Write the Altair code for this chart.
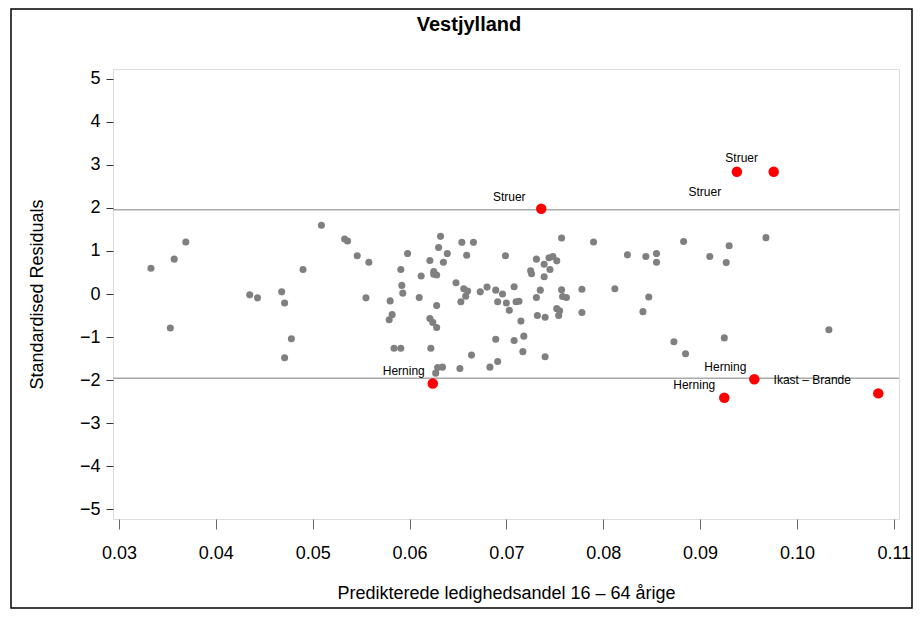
import altair as alt
import pandas as pd

# ---- data ----
gray_x = [0.0333, 0.0357, 0.0369, 0.0353, 0.0435, 0.0443, 0.0468, 0.0471, 0.0478, 0.0471,
          0.0490, 0.0509, 0.0533, 0.0536, 0.0546, 0.0558, 0.0555, 0.0598, 0.0591, 0.0592,
          0.0593, 0.0580, 0.0582, 0.0579, 0.0584, 0.0591, 0.0610, 0.0612, 0.0621, 0.0625,
          0.0625, 0.0628, 0.0632, 0.0630, 0.0635, 0.0639, 0.0628, 0.0621, 0.0624, 0.0628,
          0.0622, 0.0648, 0.0654, 0.0666, 0.0659, 0.0656, 0.0660, 0.0658, 0.0653, 0.0673,
          0.0680, 0.0689, 0.0696, 0.0691, 0.0700, 0.0703, 0.0708, 0.0710, 0.0699, 0.0689,
          0.0708, 0.0664, 0.0691, 0.0683, 0.0652, 0.0634, 0.0629, 0.0627, 0.0713, 0.0715,
          0.0718, 0.0717, 0.0757, 0.0790, 0.0731, 0.0744, 0.0748, 0.0752, 0.0739, 0.0745,
          0.0725, 0.0726, 0.0739, 0.0735, 0.0731, 0.0757, 0.0758, 0.0762, 0.0778, 0.0752,
          0.0755, 0.0754, 0.0732, 0.0740, 0.0778, 0.0740, 0.0812, 0.0825, 0.0844, 0.0855,
          0.0855, 0.0847, 0.0841, 0.0873, 0.0885, 0.0883, 0.0968, 0.0930, 0.0910, 0.0927,
          0.1033, 0.0925]
gray_y = [0.60, 0.81, 1.21, -0.79, -0.02, -0.09, 0.05, -0.21, -1.04, -1.48,
          0.57, 1.60, 1.28, 1.23, 0.89, 0.74, -0.09, 0.94, 0.57, 0.20,
          0.02, -0.16, -0.48, -0.60, -1.26, -1.26, -0.08, 0.42, 0.78, 0.52,
          0.46, 0.44, 1.34, 1.08, 0.74, 0.94, -0.27, -0.57, -0.66, -0.78,
          -1.26, 0.26, 1.20, 1.20, 0.90, 0.12, 0.07, -0.05, -0.18, 0.05,
          0.16, 0.09, 0.00, -0.18, -0.21, -0.38, 0.17, -0.18, 0.89, -1.05,
          -1.08, -1.42, -1.57, -1.70, -1.73, -1.70, -1.71, -1.84, -0.17, -0.63,
          -0.98, -1.34, 1.30, 1.21, 0.81, 0.84, 0.87, 0.77, 0.69, 0.57,
          0.54, 0.47, 0.40, 0.09, -0.08, 0.10, -0.06, -0.08, 0.11, -0.34,
          -0.39, -0.50, -0.50, -0.54, -0.43, -1.46, 0.12, 0.91, 0.87, 0.94,
          0.74, -0.07, -0.41, -1.11, -1.39, 1.22, 1.31, 1.12, 0.87, 0.73,
          -0.83, -1.02]

red_x = [0.0736, 0.0938, 0.0976, 0.0624, 0.0956, 0.0925, 0.1084]
red_y = [1.98, 2.84, 2.84, -2.08, -1.98, -2.41, -2.31]
red_names = ["Struer", "Struer", "Struer", "Herning", "Herning", "Herning", "Ikast – Brande"]

ref_levels = [-1.96, 1.96]
x_ticks = [0.03, 0.04, 0.05, 0.06, 0.07, 0.08, 0.09, 0.10, 0.11]
y_ticks = [-5, -4, -3, -2, -1, 0, 1, 2, 3, 4, 5]
chart_title = "Vestjylland"

# ---- tables ----
gray_df = pd.DataFrame({"x": gray_x, "y": gray_y})
red_df = pd.DataFrame({"x": red_x, "y": red_y, "name": red_names, "idx": list(range(len(red_x)))})
ref_df = pd.DataFrame({"y": ref_levels})
title_df = pd.DataFrame({"t": [chart_title]})

FONT = "Liberation Sans"
W, H = 786, 450

x_scale = alt.Scale(domain=[0.02938, 0.11054], nice=False, zero=False)
y_scale = alt.Scale(domain=[-5.23, 5.23], nice=False, zero=False)

x_enc = alt.X("x:Q", scale=x_scale, axis=alt.Axis(
    values=x_ticks, format=".2f", title="Predikterede ledighedsandel 16 – 64 årige",
    grid=False, domain=False, tickSize=10, tickColor="#666", tickWidth=1,
    labelFont=FONT, labelFontSize=18, labelColor="black", labelBaseline="middle",
    labelPadding=24, labelFlush=False,
    titleFont=FONT, titleFontSize=18, titleFontWeight="normal", titleColor="black",
    titleX=W / 2, titleY=74, titleAlign="center", titleBaseline="middle"))
y_enc = alt.Y("y:Q", scale=y_scale, axis=alt.Axis(
    values=y_ticks, format="d", title="Standardised  Residuals",
    grid=False, domain=False, tickSize=7, tickColor="#333", tickWidth=1,
    labelFont=FONT, labelFontSize=18, labelColor="black", labelPadding=6,
    titleFont=FONT, titleFontSize=18, titleFontWeight="normal", titleColor="black",
    titleX=-76, titleY=H / 2, titleAngle=270, titleAlign="center", titleBaseline="middle"))

frame = alt.Chart(pd.DataFrame({"a": [0]})).mark_rect(
    filled=False, stroke="black", strokeWidth=1.5
).encode(x=alt.value(-102), x2=alt.value(799), y=alt.value(-60), y2=alt.value(539))

title = alt.Chart(title_df).mark_text(
    font=FONT, fontSize=20, fontWeight="bold", color="black", align="center", baseline="middle"
).encode(x=alt.value(356), y=alt.value(-44), text="t:N")

refs = alt.Chart(ref_df).mark_rule(color="#aaaaaa", strokeWidth=1.5).encode(y=alt.Y("y:Q", scale=y_scale))

gray = alt.Chart(gray_df).mark_circle(color="#808080", opacity=1, size=50).encode(x=x_enc, y=y_enc)
red = alt.Chart(red_df).mark_circle(color="#ff0000", opacity=1, size=110).encode(
    x=alt.X("x:Q", scale=x_scale), y=alt.Y("y:Q", scale=y_scale))

label_offsets = [(-32, -12), (-32, 20), (-32, -14), (-29, -12), (-29, -12), (-30, -13), (-66, -13)]
labels = []
for i, (dx, dy) in enumerate(label_offsets):
    labels.append(
        alt.Chart(red_df).transform_filter(alt.datum.idx == i).mark_text(
            font=FONT, fontSize=12, color="black", align="center", baseline="middle", dx=dx, dy=dy
        ).encode(x=alt.X("x:Q", scale=x_scale), y=alt.Y("y:Q", scale=y_scale), text="name:N")
    )

chart = alt.layer(frame, title, refs, gray, red, *labels).properties(
    width=W, height=H,
    autosize=alt.AutoSizeParams(type="none"),
    padding={"left": 105, "top": 61, "right": 14, "bottom": 90},
).configure_view(stroke="#555555", strokeWidth=1.5).configure(background="white")

chart.save("out.html", embed_options={"renderer": "svg", "actions": False})
